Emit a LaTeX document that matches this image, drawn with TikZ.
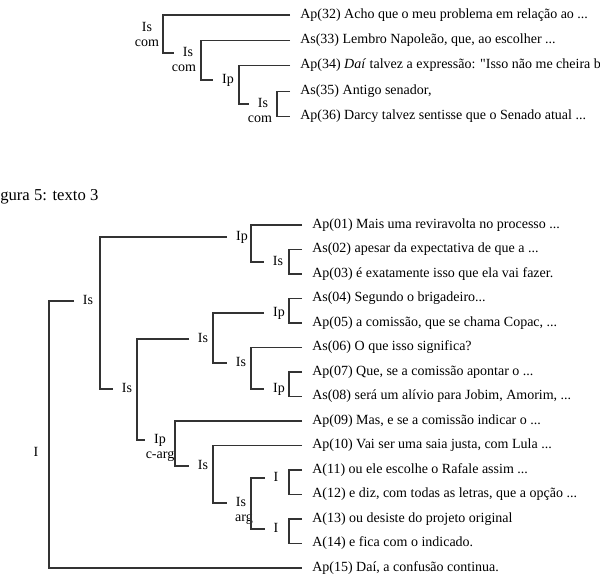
\documentclass[tikz,border=0pt]{standalone}
\usepackage{fontspec}
\setmainfont{Liberation Serif}
\usetikzlibrary{positioning}

\begin{document}
\begin{tikzpicture}[
            x=0.75pt, y=-0.75pt,
            font=\fontsize{10.5}{12}\selectfont,
            tree/.style={line width=0.8pt, draw=black!80},
            leaf/.style={anchor=west, inner xsep=7.5pt, inner ysep=1pt, text height=7pt, text depth=2.5pt},
            lab/.style={inner xsep=6.5pt, inner ysep=1pt, text height=7pt, text depth=2.5pt}
        ]
        \useasboundingbox (0, 0) rectangle (600, 576);

        % texto 2 (top)
        \def\xt{290}
        \node[leaf] (ap32) at (\xt, 15) {Ap(32) Acho que o meu problema em relação ao ...};
        \node[leaf] (as33) at (\xt, 40.4) {As(33) Lembro Napoleão, que, ao escolher ...};
        \node[leaf] (ap34) at (\xt, 65.8) {Ap(34) \textit{Daí} talvez a expressão: \textquotedbl Isso não me cheira b};
        \node[leaf] (as35) at (\xt, 91.2) {As(35) Antigo senador,};
        \node[leaf] (ap36) at (\xt, 116.6) {Ap(36) Darcy talvez sentisse que o Senado atual ...};

        \node[lab] (isA) at (147, 28) {Is};
        \node[lab, below=0pt of isA] (isA-2) {com};
        \node[lab] (isB) at (188, 53) {Is};
        \node[lab, below=0pt of isB, xshift=-3pt] (isB-2) {com};
        \node[lab] (ipC) at (228, 80) {Ip};
        \node[lab] (isD) at (263, 104) {Is};
        \node[lab, below=0pt of isD, xshift=-2.25pt] (isD-2) {com};

        \coordinate (vA) at (163, 35);
        \coordinate (vB) at (201, 58);
        \coordinate (vC) at (239, 85);
        \coordinate (vD) at (277, 104);

        \draw[tree] (ap32.west) -| (vA) |- (isB.west);
        \draw[tree] (as33.west) -| (vB) |- (ipC.west);
        \draw[tree] (ap34.west) -| (vC) |- (isD.west);
        \draw[tree] (as35.west) -| (vD) |- (ap36.west);

        % figura 5
        \node[anchor=west, inner sep=0pt, font=\fontsize{12.5}{14}\selectfont] (caption) at (0, 197) {gura 5: texto 3};

        \def\xb{302}
        \node[leaf] (ap01) at (\xb, 225) {Ap(01) Mais uma reviravolta no processo ...};
        \node[leaf] (as02) at (\xb, 249.5) {As(02) apesar da expectativa de que a ...};
        \node[leaf] (ap03) at (\xb, 274) {Ap(03) é exatamente isso que ela vai fazer.};
        \node[leaf] (as04) at (\xb, 298.5) {As(04) Segundo o brigadeiro...};
        \node[leaf] (ap05) at (\xb, 323) {Ap(05) a comissão, que se chama Copac, ...};
        \node[leaf] (as06) at (\xb, 347.5) {As(06) O que isso significa?};
        \node[leaf] (ap07) at (\xb, 372) {Ap(07) Que, se a comissão apontar o ...};
        \node[leaf] (as08) at (\xb, 396.5) {As(08) será um alívio para Jobim, Amorim, ...};
        \node[leaf] (ap09) at (\xb, 421) {Ap(09) Mas, e se a comissão indicar o ...};
        \node[leaf] (ap10) at (\xb, 445.5) {Ap(10) Vai ser uma saia justa, com Lula ...};
        \node[leaf] (a11) at (\xb, 470) {A(11) ou ele escolhe o Rafale assim ...};
        \node[leaf] (a12) at (\xb, 494.5) {A(12) e diz, com todas as letras, que a opção ...};
        \node[leaf] (a13) at (\xb, 519) {A(13) ou desiste do projeto original};
        \node[leaf] (a14) at (\xb, 543.5) {A(14) e fica com o indicado.};
        \node[leaf] (ap15) at (\xb, 568) {Ap(15) Daí, a confusão continua.};

        \node[lab] (iRoot) at (36, 453) {I};
        \node[lab] (is0) at (88, 301) {Is};
        \node[lab] (ip1) at (242, 237) {Ip};
        \node[lab] (is1) at (278, 262) {Is};
        \node[lab] (is2) at (127, 389) {Is};
        \node[lab] (is3) at (203, 339) {Is};
        \node[lab] (ip2) at (279, 313) {Ip};
        \node[lab] (is4) at (241, 363) {Is};
        \node[lab] (ip3) at (279, 389) {Ip};
        \node[lab] (ipc) at (160, 440) {Ip};
        \node[lab, below=0pt of ipc] (ipc-2) {c-arg};
        \node[lab] (is5) at (203, 466) {Is};
        \node[lab] (isg) at (241, 503) {Is};
        \node[lab, below=0pt of isg, xshift=2.25pt] (isg-2) {arg};
        \node[lab] (ia) at (276, 478) {I};
        \node[lab] (ib) at (276, 529) {I};

        \coordinate (vI) at (49, 453);
        \coordinate (v0) at (100, 301);
        \coordinate (v1) at (251, 237);
        \coordinate (v2) at (289, 262);
        \coordinate (v3) at (137, 389);
        \coordinate (v4) at (213, 339);
        \coordinate (v5) at (289, 313);
        \coordinate (v6) at (251, 363);
        \coordinate (v7) at (289, 389);
        \coordinate (v8) at (175, 445);
        \coordinate (v9) at (213, 466);
        \coordinate (v10) at (251, 503);
        \coordinate (v11) at (289, 478);
        \coordinate (v12) at (289, 529);

        \draw[tree] (is0.west) -| (vI) |- (ap15.west);
        \draw[tree] (ip1.west) -| (v0) |- (is2.west);
        \draw[tree] (ap01.west) -| (v1) |- (is1.west);
        \draw[tree] (as02.west) -| (v2) |- (ap03.west);
        \draw[tree] (is3.west) -| (v3) |- (ipc.west);
        \draw[tree] (ip2.west) -| (v4) |- (is4.west);
        \draw[tree] (as04.west) -| (v5) |- (ap05.west);
        \draw[tree] (as06.west) -| (v6) |- (ip3.west);
        \draw[tree] (ap07.west) -| (v7) |- (as08.west);
        \draw[tree] (ap09.west) -| (v8) |- (is5.west);
        \draw[tree] (ap10.west) -| (v9) |- (isg.west);
        \draw[tree] (ia.west) -| (v10) |- (ib.west);
        \draw[tree] (a11.west) -| (v11) |- (a12.west);
        \draw[tree] (a13.west) -| (v12) |- (a14.west);
    \end{tikzpicture}
\end{document}
